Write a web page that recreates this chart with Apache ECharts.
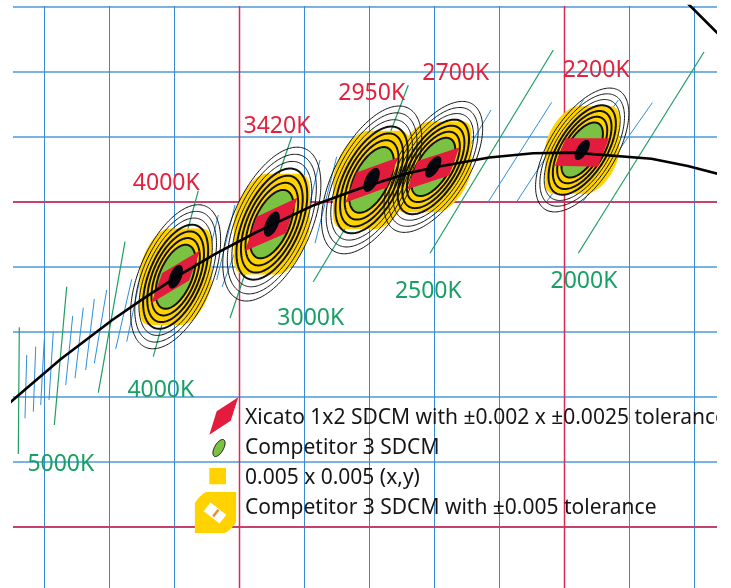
<!DOCTYPE html>
<html>
<head>
<meta charset="utf-8">
<title>SDCM tolerance comparison on the CIE 1931 diagram</title>
<script src="https://cdn.jsdelivr.net/npm/echarts@6.0.0/dist/echarts.min.js"></script>
<style>
  html, body { margin: 0; padding: 0; background: #ffffff; }
  #chart { width: 731px; height: 588px; }
</style>
</head>
<body>
<div id="chart"></div>
<script>
// ---- Plot window, CIE 1931 chromaticity (x, y) ----
const xRange = [0.33046, 0.54708];
const yRange = [0.28123, 0.46031];

// ---- Grid lines ----
const minorGridX = [0.34, 0.36, 0.38, 0.42, 0.44, 0.46, 0.48, 0.52, 0.54];
const majorGridX = [0.40, 0.50];
const minorGridY = [0.32, 0.34, 0.36, 0.38, 0.42, 0.44, 0.46];
const majorGridY = [0.30, 0.40];

// ---- Planckian locus (x, y) from 6000 K down to 1800 K ----
const planckianLocus = [
  [0.3221, 0.3318], [0.3324, 0.3408], [0.3451, 0.3516], [0.3610, 0.3637],
  [0.3700, 0.3699], [0.3805, 0.3768], [0.3923, 0.3838], [0.4053, 0.3907],
  [0.4232, 0.3991], [0.4369, 0.4041], [0.4514, 0.4087], [0.4599, 0.4106],
  [0.4770, 0.4137], [0.4905, 0.4150], [0.5030, 0.4152], [0.5269, 0.4133],
  [0.5381, 0.4111], [0.5496, 0.4081]
];

// ---- Spectral locus, 580 / 585 / 590 nm ----
const spectralLocus = [[0.5125, 0.4866], [0.5448, 0.4544], [0.5752, 0.4242]];

// ---- Isotherm segments [x1, y1, x2, y2] ----
const greenIsotherms = [
  [0.33240, 0.36145, 0.33209, 0.32246],
  [0.34698, 0.37394, 0.34317, 0.33138],
  [0.36492, 0.38778, 0.35671, 0.34132],
  [0.38748, 0.40348, 0.37363, 0.35240],
  [0.41622, 0.42009, 0.39723, 0.36431],
  [0.45209, 0.43600, 0.44277, 0.41138],
  [0.43569, 0.39692, 0.42286, 0.37548],
  [0.49671, 0.44677, 0.45877, 0.38422],
  [0.54308, 0.44615, 0.50440, 0.38422]
];
const blueIsotherms = [
  [0.33468, 0.35292, 0.33415, 0.33345],
  [0.33745, 0.35548, 0.33671, 0.33548],
  [0.34009, 0.35775, 0.33898, 0.33754],
  [0.34286, 0.36009, 0.34154, 0.33908],
  [0.34883, 0.36492, 0.34668, 0.34369],
  [0.35209, 0.36748, 0.34954, 0.34575],
  [0.35548, 0.37015, 0.35283, 0.34831],
  [0.35929, 0.37292, 0.35548, 0.35037],
  [0.36698, 0.37622, 0.36206, 0.35477],
  [0.37055, 0.38114, 0.36545, 0.35702],
  [0.39363, 0.39600, 0.38800, 0.37292],
  [0.39877, 0.39908, 0.39314, 0.37600],
  [0.40338, 0.39692, 0.39477, 0.37385],
  [0.43006, 0.41394, 0.42338, 0.38729],
  [0.42492, 0.41292, 0.41938, 0.38954],
  [0.47754, 0.42831, 0.46892, 0.41385],
  [0.49622, 0.43068, 0.47652, 0.39978],
  [0.50594, 0.43138, 0.48545, 0.40009],
  [0.51671, 0.43138, 0.49468, 0.40009],
  [0.52717, 0.43055, 0.50545, 0.39960]
];

// ---- MacAdam ellipse families: centre, 1-step semi-axes and tilt ----
const ellipseCct = ['4000K', '3420K', '2950K', '2700K', '2200K'];
const ellipseCenter = [[0.3805, 0.3770], [0.4101, 0.3932], [0.4408, 0.4068], [0.4598, 0.4108], [0.5056, 0.4160]];
const ellipseA = [0.003496, 0.003756, 0.003674, 0.003373, 0.003191];
const ellipseB = [0.001664, 0.001787, 0.001750, 0.001609, 0.001518];
const ellipseTilt = [67, 66, 63, 58, 58];
const ringSteps = [3, 3.625, 4.25, 4.875, 5.5, 6.125, 6.75];
const boldRingLimit = 4.875;
const competitorStep = 3;
const coreStep = 1.1;
const squareTolerance = 0.005;

// ---- Xicato 1x2 SDCM tolerance quadrangles ----
const xicatoQuads = [
  [[0.37302, 0.36892], [0.37640, 0.37815], [0.38803, 0.38511], [0.38465, 0.37588]],
  [[0.40185, 0.38492], [0.40545, 0.39548], [0.41794, 0.40132], [0.41446, 0.39037]],
  [[0.43277, 0.39985], [0.43615, 0.40908], [0.44889, 0.41369], [0.44551, 0.40446]],
  [[0.45178, 0.40394], [0.45492, 0.41262], [0.46778, 0.41680], [0.46465, 0.40812]],
  [[0.49723, 0.41117], [0.50052, 0.41960], [0.51385, 0.41960], [0.51046, 0.41086]]
];

// ---- Text labels ----
const redLabelPos = [[0.37763, 0.40575], [0.41169, 0.42317], [0.44083, 0.43332], [0.46671, 0.43960], [0.50991, 0.44062]];
const greenLabelText = ['5000K', '4000K', '3000K', '2500K', '2000K'];
const greenLabelPos = [[0.34517, 0.31923], [0.37594, 0.34194], [0.42209, 0.36409], [0.45825, 0.37262], [0.50615, 0.37548]];
const legendText = [
  'Xicato 1x2 SDCM with \u00b10.002 x \u00b10.0025 tolerance',
  'Competitor 3 SDCM',
  '0.005 x 0.005 (x,y)',
  'Competitor 3 SDCM with \u00b10.005 tolerance'
];

// ---- Colours ----
const C = {
  gridBlueV: '#3a8ad0', gridBlueH: '#7ab3df', gridRedV: '#dc2b53', gridRedH: '#c4426b',
  isoGreen: '#1f9e63', isoBlue: '#2f8edb', ink: '#111111',
  yellow: '#ffd200', green: '#7cc242', red: '#e31b3d', core: '#07070f',
  labelRed: '#e4213d', labelGreen: '#17a066', orange: '#f08a24'
};

// ---- Geometry helpers (data space, y up) ----
function ellipseRing(c, a, b, deg, step, n) {
  const r = deg * Math.PI / 180, cr = Math.cos(r), sr = Math.sin(r), pts = [];
  for (let i = 0; i < n; i++) {
    const t = 2 * Math.PI * i / n;
    const u = a * step * Math.cos(t), v = b * step * Math.sin(t);
    pts.push([c[0] + u * cr - v * sr, c[1] + u * sr + v * cr]);
  }
  return pts;
}
// Ellipse grown by an axis-aligned square of half-side h (Minkowski sum)
function toleranceOutline(c, a, b, deg, step, h, n) {
  const r = deg * Math.PI / 180, cr = Math.cos(r), sr = Math.sin(r), pts = [];
  for (let i = 0; i < n; i++) {
    const t = 2 * Math.PI * (i + 0.5) / n, ct = Math.cos(t), st = Math.sin(t);
    const u = a * step * ct, v = b * step * st;
    const nu = ct / (a * step), nv = st / (b * step);
    const nx = nu * cr - nv * sr, ny = nu * sr + nv * cr;
    pts.push([c[0] + u * cr - v * sr + h * Math.sign(nx), c[1] + u * sr + v * cr + h * Math.sign(ny)]);
  }
  return pts;
}

function gridSeries(values, vertical, color, width) {
  return {
    type: 'custom', coordinateSystem: 'cartesian2d', silent: true,
    data: values.map(v => vertical ? [v, yRange[0]] : [xRange[0], v]),
    renderItem: (params, api) => {
      const cs = params.coordSys;
      const p = api.coord([api.value(0), api.value(1)]);
      const shape = vertical
        ? { x1: Math.round(p[0]) + 0.5, y1: cs.y, x2: Math.round(p[0]) + 0.5, y2: cs.y + cs.height }
        : { x1: cs.x, y1: Math.round(p[1]), x2: cs.x + cs.width, y2: Math.round(p[1]) };
      return { type: 'line', shape, style: { stroke: color, lineWidth: width } };
    }
  };
}

function segmentSeries(segs, color, width) {
  return {
    type: 'custom', coordinateSystem: 'cartesian2d', silent: true, clip: true,
    data: segs,
    renderItem: (params, api) => {
      const p1 = api.coord([api.value(0), api.value(1)]);
      const p2 = api.coord([api.value(2), api.value(3)]);
      return { type: 'line', shape: { x1: p1[0], y1: p1[1], x2: p2[0], y2: p2[1] }, style: { stroke: color, lineWidth: width } };
    }
  };
}

function ellipseLayer(build) {
  return {
    type: 'custom', coordinateSystem: 'cartesian2d', silent: true,
    data: ellipseCenter.map(c => [c[0], c[1]]),
    renderItem: (params, api) => ({ type: 'group', children: build(params.dataIndex, api) })
  };
}
const px = (api, pts) => pts.map(p => api.coord(p));

function labelSeries(texts, positions, color, size) {
  return {
    type: 'custom', coordinateSystem: 'cartesian2d', silent: true,
    data: positions,
    renderItem: (params, api) => {
      const p = api.coord([api.value(0), api.value(1)]);
      return {
        type: 'text', x: p[0], y: p[1],
        style: { text: texts[params.dataIndex], fill: color, font: size + 'px "Noto Sans"', align: 'center', verticalAlign: 'middle' }
      };
    }
  };
}

// ---- Legend drawing helpers (screen space, y down) ----
function screenEllipse(cx, cy, rx, ry, deg, n) {
  const r = deg * Math.PI / 180, cr = Math.cos(r), sr = Math.sin(r), pts = [];
  for (let i = 0; i < n; i++) {
    const t = 2 * Math.PI * i / n, u = rx * Math.cos(t), v = ry * Math.sin(t);
    pts.push([cx + u * cr - v * sr, cy - (u * sr + v * cr)]);
  }
  return pts;
}
function screenRect(cx, cy, w, h, deg) {
  const r = deg * Math.PI / 180, cr = Math.cos(r), sr = Math.sin(r);
  return [[-w / 2, -h / 2], [w / 2, -h / 2], [w / 2, h / 2], [-w / 2, h / 2]]
    .map(([u, v]) => [cx + u * cr - v * sr, cy - (u * sr + v * cr)]);
}

const legendX = 245, legendY = [418, 448, 478, 508];
const blob = toleranceOutline([0, 0], 9, 2.5, 45, 1, 14, 160).map(p => [215.5 + p[0], legendY[3] + 4.5 - p[1]]);

const legendGraphics = [
  { type: 'polygon', shape: { points: [[238.3, 397.3], [216.7, 411.3], [209.3, 434.7], [230.7, 420.7]] }, style: { fill: C.red } },
  { type: 'polygon', shape: { points: screenEllipse(219, legendY[1], 9.5, 4.4, 60, 60) }, style: { fill: C.green, stroke: C.ink, lineWidth: 1 } },
  { type: 'rect', shape: { x: 209.3, y: 468, width: 16.7, height: 16.3 }, style: { fill: C.yellow } },
  { type: 'polygon', shape: { points: blob }, style: { fill: C.yellow } },
  { type: 'polygon', shape: { points: screenRect(215, 513, 20, 11, -38) }, style: { fill: '#ffffff' } },
  { type: 'line', shape: { x1: 213.2, y1: 516.6, x2: 218.4, y2: 509.8 }, style: { stroke: C.orange, lineWidth: 2.4 } }
].concat(legendText.map((t, i) => ({
  type: 'text', x: legendX, y: legendY[i],
  style: { text: t, fill: '#161616', font: '21px "Noto Sans"', align: 'left', verticalAlign: 'middle' }
}))).concat([
  { type: 'rect', shape: { x: 717, y: 0, width: 14, height: 588 }, style: { fill: '#ffffff' } }
]).map(g => Object.assign({ z: 100, silent: true }, g));

const chart = echarts.init(document.getElementById('chart'), null, { renderer: 'canvas' });
chart.setOption({
  animation: false,
  backgroundColor: '#ffffff',
  grid: { left: 13, right: 14, top: 6, bottom: 0, containLabel: false },
  xAxis: { type: 'value', min: xRange[0], max: xRange[1], show: false, splitLine: { show: false } },
  yAxis: { type: 'value', min: yRange[0], max: yRange[1], show: false, splitLine: { show: false } },
  series: [
    gridSeries(minorGridY, false, C.gridBlueH, 2),
    gridSeries(minorGridX, true, C.gridBlueV, 1),
    gridSeries(majorGridY, false, C.gridRedH, 2),
    gridSeries(majorGridX, true, C.gridRedV, 1.5),
    segmentSeries(blueIsotherms, C.isoBlue, 1),
    segmentSeries(greenIsotherms, C.isoGreen, 1.2),
    {
      type: 'line', data: planckianLocus, showSymbol: false, silent: true, clip: true,
      lineStyle: { color: '#000000', width: 2.6 }
    },
    {
      type: 'line', data: spectralLocus, showSymbol: false, silent: true, clip: true,
      lineStyle: { color: '#000000', width: 2.6 }
    },
    // ±0.005 tolerance around the 3-step ellipse
    ellipseLayer((i, api) => [{
      type: 'polygon',
      shape: { points: px(api, toleranceOutline(ellipseCenter[i], ellipseA[i], ellipseB[i], ellipseTilt[i], competitorStep, squareTolerance, 360)) },
      style: { fill: C.yellow }
    }]),
    // MacAdam rings
    ellipseLayer((i, api) => ringSteps.filter(s => s > competitorStep).map(s => ({
      type: 'polygon',
      shape: { points: px(api, ellipseRing(ellipseCenter[i], ellipseA[i], ellipseB[i], ellipseTilt[i], s, 200)) },
      style: { fill: 'none', stroke: C.ink, lineWidth: s <= boldRingLimit ? 2 : 1 }
    }))),
    // competitor 3-step ellipse
    ellipseLayer((i, api) => [{
      type: 'polygon',
      shape: { points: px(api, ellipseRing(ellipseCenter[i], ellipseA[i], ellipseB[i], ellipseTilt[i], competitorStep, 200)) },
      style: { fill: C.green, stroke: C.ink, lineWidth: 2 }
    }]),
    // Xicato quadrangles
    ellipseLayer((i, api) => [{
      type: 'polygon', shape: { points: px(api, xicatoQuads[i]) }, style: { fill: C.red }
    }]),
    // ellipse cores
    ellipseLayer((i, api) => [{
      type: 'polygon',
      shape: { points: px(api, ellipseRing(ellipseCenter[i], ellipseA[i], ellipseB[i], ellipseTilt[i], coreStep, 80)) },
      style: { fill: C.core }
    }]),
    labelSeries(ellipseCct, redLabelPos, C.labelRed, 23),
    labelSeries(greenLabelText, greenLabelPos, C.labelGreen, 23)
  ],
  graphic: { elements: legendGraphics }
});
</script>
</body>
</html>
